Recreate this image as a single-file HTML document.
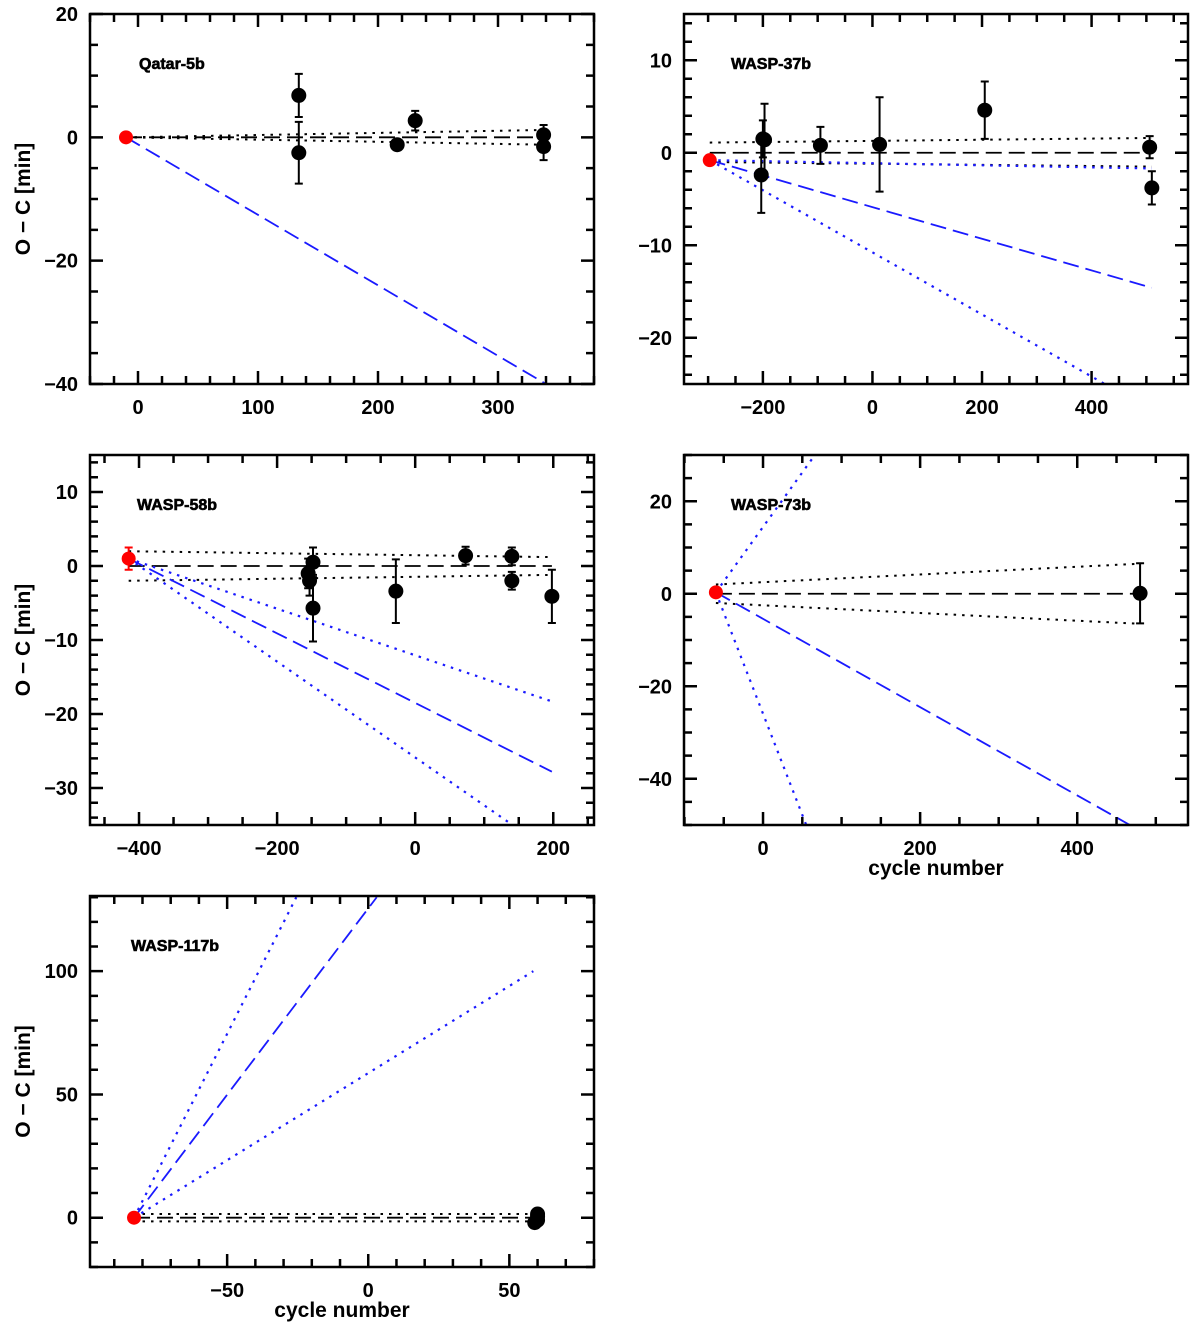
<!DOCTYPE html>
<html><head><meta charset="utf-8"><style>
body{margin:0;background:#fff;width:1200px;height:1325px;overflow:hidden}
svg{display:block}
text{font-family:"Liberation Sans",sans-serif;font-weight:bold;fill:#000}
</style></head><body>
<svg id="fig" width="1200" height="1325" viewBox="0 0 1200 1325" xmlns="http://www.w3.org/2000/svg"></svg>
<script>
// ---- data per panel ----
const qatarPts = [[134,6.8,3.5],[134,-2.5,5],[216,-1.2,0.8],[231,2.7,1.6],[338,0.4,1.6],[338,-1.5,2.2]];
const qatarRed = [-10,0];
const wasp37Pts = [[-197,1.4,3.9],[-200,1.5,2],[-203,-2.4,4.1],[-95,0.8,2],[13,0.9,5.1],[205,4.6,3.1],[506,0.6,1.2],[510,-3.8,1.8]];
const wasp37Red = [-297,-0.8];
const wasp58Pts = [[-155,-1,2],[-153,-2,2],[-148,0.5,2],[-148,-5.7,4.5],[-28,-3.4,4.3],[73,1.4,1.2],[140,1.3,1.2],[140,-2,1.2],[198,-4.1,3.6]];
const wasp58Red = [-415,1.0,1.5];
const wasp73Pts = [[480,0.1,6.5]];
const wasp73Red = [-60,0.3];
const wasp117Pts = [[60,1.5,0.5],[60,0.5,0.5],[59,-2,0.5],[60,-1,0.5]];
const wasp117Red = [-83,0];
// lines: [x1,y1,x2,y2,style]
const qatarLines = [[-10,0,340,0,'kdash'],[-10,0,340,1.2,'kdot'],[-10,0,340,-1.2,'kdot'],[-10,0,340,-40,'bdash']];
const wasp37Lines = [[-297,0,510,0,'kdash'],[-297,1.1,510,1.6,'kdot'],[-297,-1.0,510,-1.5,'kdot'],[-297,-0.8,510,-1.7,'bdot'],[-297,-0.8,510,-14.6,'bdash'],[-297,-0.8,424,-25,'bdot']];
const wasp58Lines = [[-415,0,198,0,'kdash'],[-415,2,198,1.2,'kdot'],[-415,-2,198,-1.2,'kdot'],[-415,1,198,-18.3,'bdot'],[-415,1,198,-27.8,'bdash'],[-415,1,141,-35,'bdot']];
const wasp73Lines = [[-60,0,480,0,'kdash'],[-60,2,480,6.5,'kdot'],[-60,-2,480,-6.5,'kdot'],[-60,0.3,467,-50,'bdash'],[-60,0.3,66,30,'bdot'],[-60,0.3,55,-50,'bdot']];
const wasp117Lines = [[-83,0,60,0,'kdash'],[-83,1.5,60,1.5,'kdot'],[-83,-1.5,60,-1.5,'kdot'],[-83,0,3,130,'bdash'],[-83,0,-25.5,130,'bdot'],[-83,0,58.5,100,'bdot']];
const qatarXTicks=[0,100,200,300], qatarYTicks=[-40,-20,0,20];
const wasp37XTicks=[-200,0,200,400], wasp37YTicks=[-20,-10,0,10];
const wasp58XTicks=[-400,-200,0,200], wasp58YTicks=[-30,-20,-10,0,10];
const wasp73XTicks=[0,200,400], wasp73YTicks=[-40,-20,0,20];
const wasp117XTicks=[-50,0,50], wasp117YTicks=[0,50,100];

const panels=[
 {name:'qatar-5b',title:'Qatar-5b',box:[90,14,594,384],xr:[-40,380],yr:[-40,20],xt:qatarXTicks,yt:qatarYTicks,xm:20,ym:5,pts:qatarPts,red:qatarRed,lines:qatarLines,ylab:true,xlab:false},
 {name:'wasp-37b',title:'WASP-37b',box:[684,14,1188,384],xr:[-344,576],yr:[-25,15],xt:wasp37XTicks,yt:wasp37YTicks,xm:50,ym:2,pts:wasp37Pts,red:wasp37Red,lines:wasp37Lines,ylab:false,xlab:false},
 {name:'wasp-58b',title:'WASP-58b',box:[90,455,594,825],xr:[-471,259],yr:[-35,15],xt:wasp58XTicks,yt:wasp58YTicks,xm:50,ym:2,pts:wasp58Pts,red:wasp58Red,lines:wasp58Lines,ylab:true,xlab:false},
 {name:'wasp-73b',title:'WASP-73b',box:[684,455,1188,825],xr:[-100.6,541],yr:[-50,30],xt:wasp73XTicks,yt:wasp73YTicks,xm:50,ym:5,pts:wasp73Pts,red:wasp73Red,lines:wasp73Lines,ylab:false,xlab:true},
 {name:'wasp-117b',title:'WASP-117b',box:[90,896,594,1267],xr:[-98.6,80],yr:[-20,130.5],xt:wasp117XTicks,yt:wasp117YTicks,xm:10,ym:10,pts:wasp117Pts,red:wasp117Red,lines:wasp117Lines,ylab:true,xlab:true}
];
const NS='http://www.w3.org/2000/svg';
const fig=document.getElementById('fig');
function mk(tag,attrs,parent){const e=document.createElementNS(NS,tag);for(const k in attrs)e.setAttribute(k,attrs[k]);parent.appendChild(e);return e;}
panels.forEach(p=>{
 const [L,T,R,B]=p.box;
 const sx=v=>L+(v-p.xr[0])/(p.xr[1]-p.xr[0])*(R-L);
 const sy=v=>B-(v-p.yr[0])/(p.yr[1]-p.yr[0])*(B-T);
 const g=mk('g',{},fig);
 
 
 const cid='clip-'+p.name;
 const cp=mk('clipPath',{id:cid},g); mk('rect',{x:L,y:T,width:R-L,height:B-T},cp);
 const plot=mk('g',{'clip-path':'url(#'+cid+')'},g);
 p.lines.forEach(l=>{
  const st={kdash:['#000','16 7',1.8],kdot:['#000','2.5 6',2],bdash:['#1a1aff','16 7',1.8],bdot:['#1a1aff','2.5 6',2.2]}[l[4]];
  const ln=mk('line',{x1:sx(l[0]),y1:sy(l[1]),x2:sx(l[2]),y2:sy(l[3]),stroke:st[0],'stroke-dasharray':st[1],'stroke-width':st[2]},plot);
  
  
 });
 p.pts.forEach(d=>{
  const x=sx(d[0]),y=sy(d[1]),y1=sy(d[1]+d[2]),y2=sy(d[1]-d[2]);
  const eb=mk('path',{d:`M${x},${y1}V${y2}M${x-4},${y1}H${x+4}M${x-4},${y2}H${x+4}`,stroke:'#000','stroke-width':2,fill:'none'},plot);
  
  
  const c=mk('circle',{cx:x,cy:y,r:7.5,fill:'#000'},plot);
  
  
 });
 {const d=p.red,x=sx(d[0]),y=sy(d[1]);
  if(d[2]){const eb=mk('path',{d:`M${x},${sy(d[1]+d[2])}V${sy(d[1]-d[2])}M${x-4},${sy(d[1]+d[2])}H${x+4}M${x-4},${sy(d[1]-d[2])}H${x+4}`,stroke:'#f00','stroke-width':2},plot);
   
   }
  const c=mk('circle',{cx:x,cy:y,r:7,fill:'#f00'},plot);
  
  }
 let tp='';
 const tickX=(v,len)=>{const x=sx(v);tp+=`M${x},${B}V${B-len}M${x},${T}V${T+len}`;};
 const tickY=(v,len)=>{const y=sy(v);tp+=`M${L},${y}H${L+len}M${R},${y}H${R-len}`;};
 for(let v=Math.ceil(p.xr[0]/p.xm)*p.xm;v<=p.xr[1];v+=p.xm) tickX(v,p.xt.includes(v)?13:8);
 for(let v=Math.ceil(p.yr[0]/p.ym)*p.ym;v<=p.yr[1];v+=p.ym) tickY(v,p.yt.includes(v)?13:8);
 const tk=mk('path',{d:tp,stroke:'#000','stroke-width':2.5,fill:'none'},g);
 
 
 const fr=mk('rect',{x:L,y:T,width:R-L,height:B-T,fill:'none',stroke:'#000','stroke-width':2.5},g);
 
 
 p.xt.forEach(v=>{const t=mk('text',{x:sx(v),y:B+30,'text-anchor':'middle','font-size':20},g);t.textContent=v<0?'\u2212'+(-v):v;
  
  });
 p.yt.forEach(v=>{const t=mk('text',{x:L-12,y:sy(v)+7,'text-anchor':'end','font-size':20},g);t.textContent=v<0?'\u2212'+(-v):v;
  
  });
 const ti=mk('text',{x:L+(p.name==='qatar-5b'?49:(p.name==='wasp-117b'?41:47)),y:T+55,'font-size':16,stroke:'#000','stroke-width':0.6},g);ti.textContent=p.title;
 
 
 if(p.ylab){const cy=(T+B)/2;const t=mk('text',{x:30,y:cy,'text-anchor':'middle','font-size':21,transform:`rotate(-90 30 ${cy})`},g);t.textContent='O \u2212 C [min]';
  
  }
 if(p.xlab){const t=mk('text',{x:(L+R)/2,y:B+50,'text-anchor':'middle','font-size':21},g);t.textContent='cycle number';
  
  }
});
</script>
</body></html>
